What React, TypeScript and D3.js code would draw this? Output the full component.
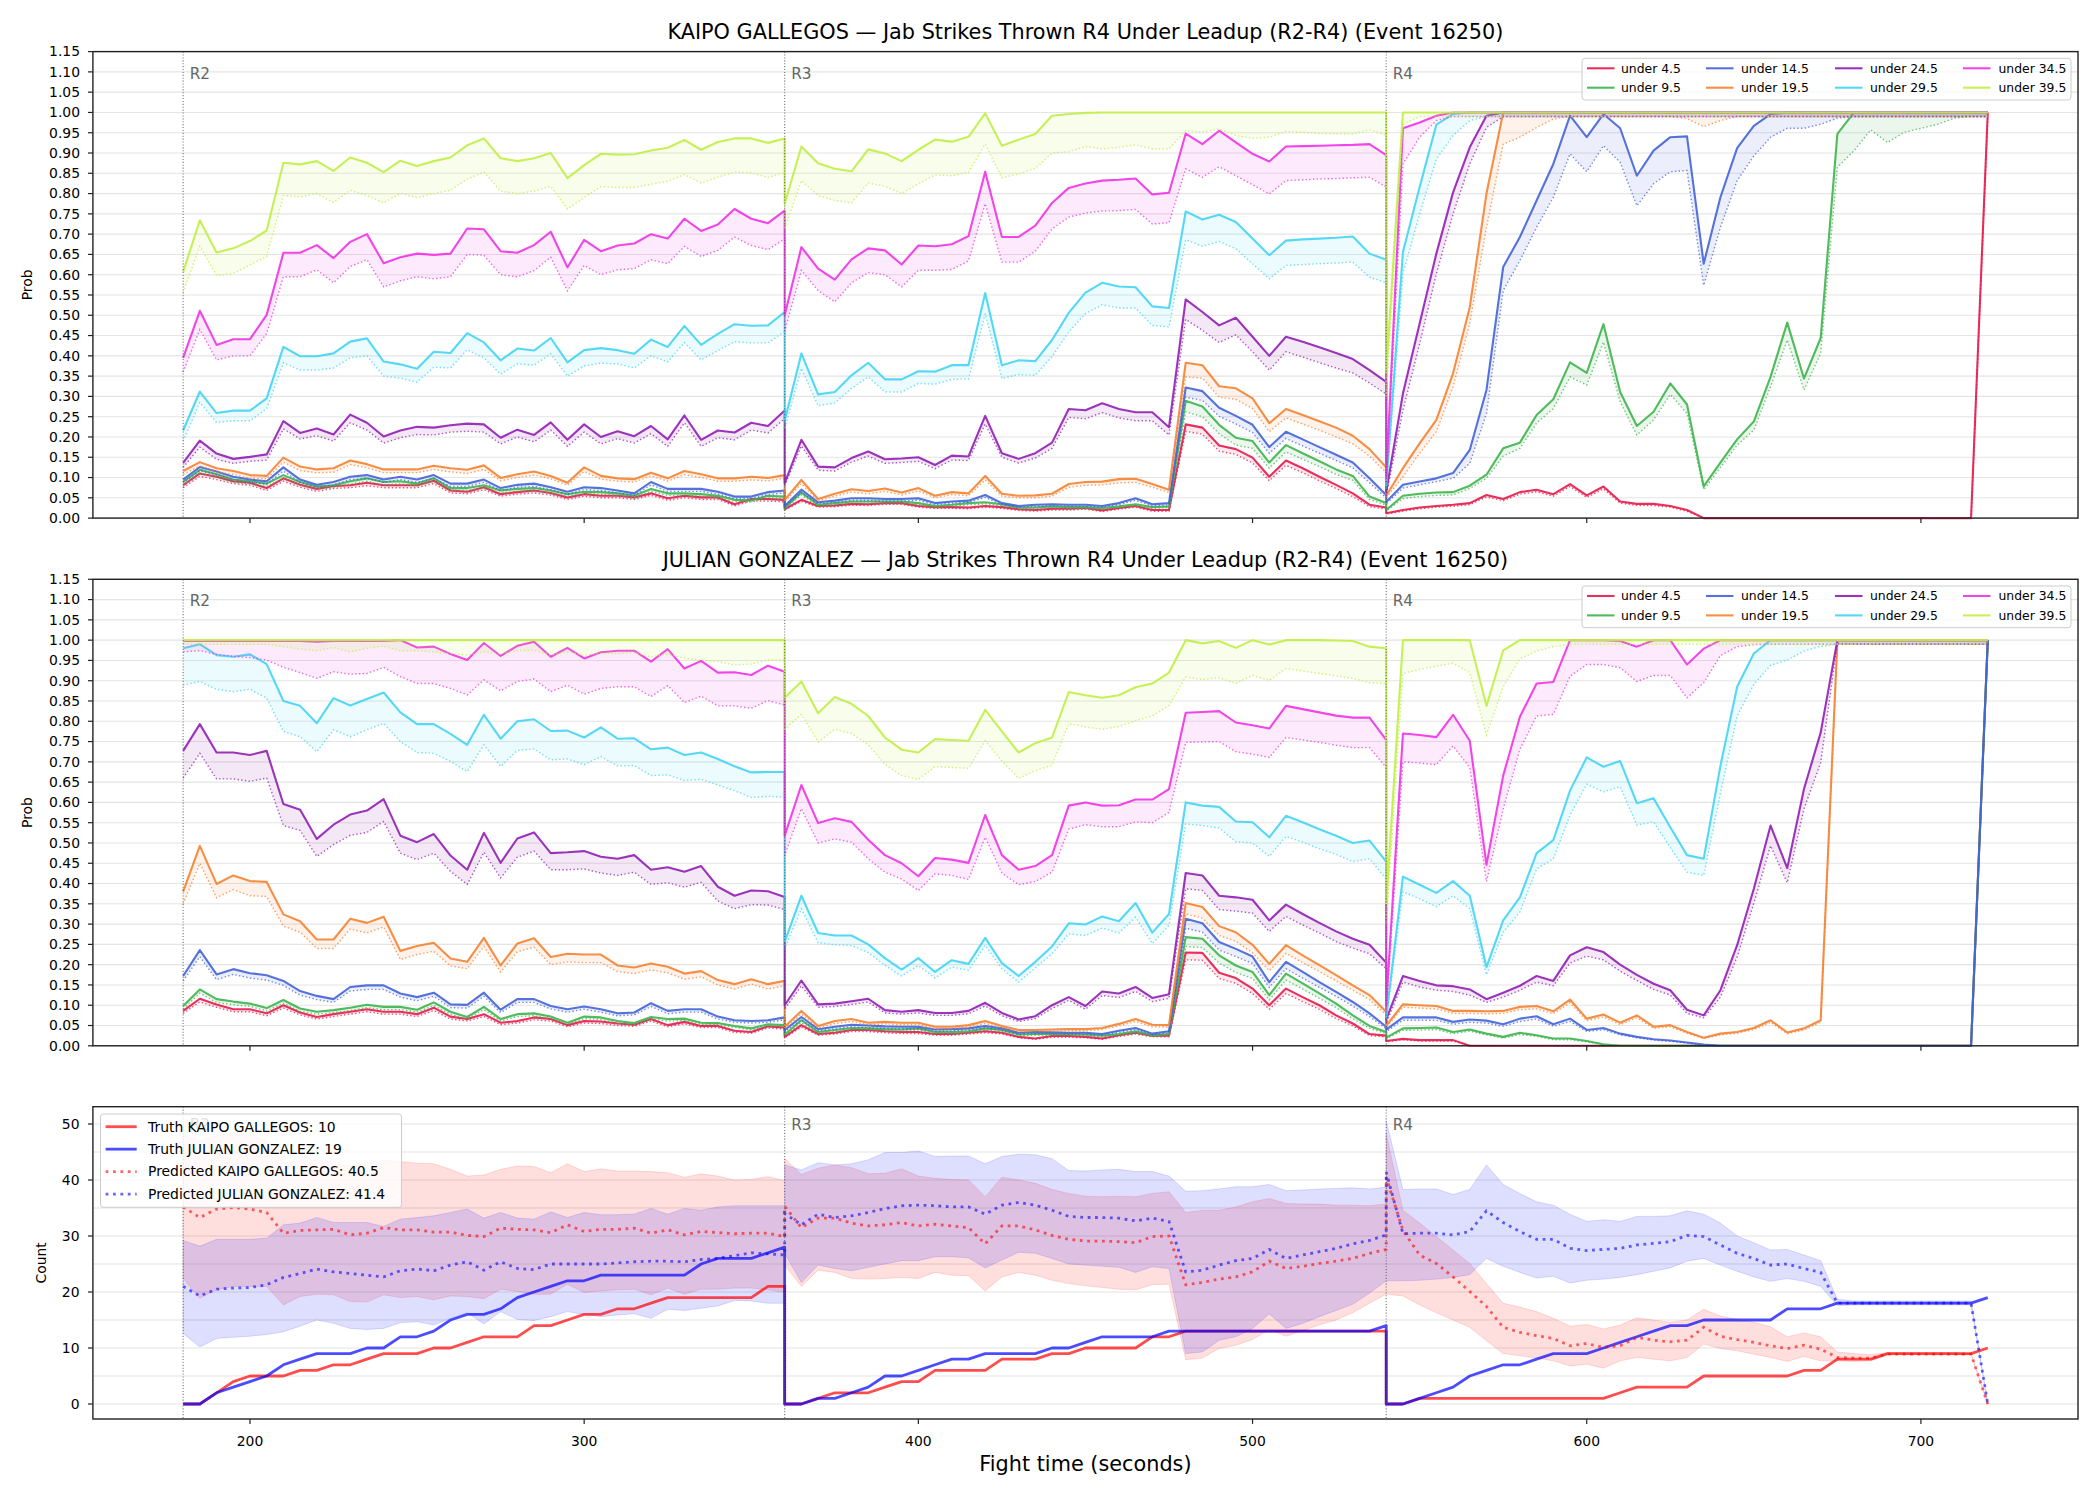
import * as d3 from "d3";

// fight clock: three rounds, one sample every 5 s, round boundary repeated
const ROUND_STARTS = [180, 360, 540];
const ROUND_LABELS = ["R2", "R3", "R4"];
const SAMPLE_STEP = 5;
const SAMPLES_PER_ROUND = 37;
const X_TICKS = [200, 300, 400, 500, 600, 700];

const LINE_LABELS = ["under 4.5", "under 9.5", "under 14.5", "under 19.5", "under 24.5", "under 29.5", "under 34.5", "under 39.5"];
const LINE_COLORS = ["#e6194b", "#3cb44b", "#4363d8", "#f58231", "#911eb4", "#42d4f4", "#f032e6", "#bfef45"];

// KAIPO GALLEGOS, probability x1000 (solid line, then dotted line)
const kg4 = [81,110,102,91,87,74,98,82,72,79,81,87,81,81,81,92,68,65,76,59,64,68,62,51,59,55,55,51,61,49,55,51,51,34,47,47,45,
  22,45,30,31,35,34,37,37,30,27,27,26,30,27,22,20,23,23,25,19,25,30,20,20,231,223,179,170,149,102,142,123,102,82,61,33,26,
  12,20,26,30,33,37,57,47,64,70,59,84,56,78,41,35,35,30,20,0,0,0,0,0,0,0,0,0,0,0,0,0,0,0,0,0,1000];
const kg4d = [75,103,95,85,81,68,91,76,66,73,75,80,75,75,75,85,62,60,70,54,59,62,57,46,54,50,50,46,56,44,50,46,46,30,42,42,40,
  20,41,27,28,32,31,34,34,27,24,24,23,27,24,19,17,20,20,22,16,22,27,17,17,214,207,165,157,136,92,130,112,92,73,53,28,22,
  10,17,23,27,29,33,52,43,59,65,54,78,51,72,37,31,31,27,17,0,0,0,0,0,0,0,0,0,0,0,0,0,0,0,0,0,990];
const kg9 = [89,119,108,95,91,85,106,89,78,81,91,98,89,91,85,98,74,74,81,68,72,74,68,59,65,64,61,55,72,61,61,59,55,45,44,55,53,
  25,63,33,37,41,41,41,41,37,30,33,37,39,34,26,26,29,27,27,25,29,34,27,29,289,275,230,198,190,137,180,160,140,120,104,53,37,
  20,55,60,63,64,80,107,172,186,254,293,384,358,478,311,227,262,332,280,78,137,194,238,348,482,344,444,947,1000,1000,1000,1000,1000,1000,1000,1000,1000];
const kg9d = [82,111,101,88,84,78,98,82,72,75,84,91,82,84,79,91,68,68,75,62,66,68,62,54,60,59,56,50,66,56,56,54,50,41,40,50,48,
  22,57,29,33,37,37,37,37,33,27,29,33,35,30,23,23,26,24,24,22,26,30,24,26,262,250,208,180,172,123,163,145,127,108,93,46,32,
  18,48,53,56,57,73,98,153,172,234,270,348,328,434,287,205,242,305,258,70,125,180,217,324,439,316,406,865,906,957,926,951,961,971,986,990,990];
const kg14 = [95,126,115,102,95,91,125,95,82,89,102,106,95,102,95,106,85,85,95,74,82,85,76,65,76,74,68,61,89,72,72,72,65,53,53,64,68,
  30,70,39,43,49,49,47,47,49,37,41,43,57,37,30,33,34,33,33,30,37,49,34,37,322,313,272,252,230,175,213,194,175,156,137,98,57,
  40,82,90,98,111,168,316,619,693,783,873,992,939,996,961,844,906,939,941,627,791,912,967,996,1000,1000,1000,1000,1000,1000,1000,1000,1000,1000,1000,1000,1000];
const kg14d = [87,117,107,95,88,84,116,88,76,82,95,98,88,95,88,98,78,78,88,68,76,78,70,59,70,68,62,56,82,66,66,66,59,48,48,58,62,
  27,63,35,39,44,44,42,42,44,33,37,39,51,33,27,29,30,29,29,27,33,44,30,33,298,290,251,232,211,160,196,178,160,142,124,87,50,
  35,74,82,90,98,135,258,561,635,717,791,898,854,918,877,770,824,854,857,574,717,832,893,939,961,961,971,986,990,990,990,990,990,990,990,990,990];
const kg19 = [116,138,123,116,106,104,149,127,120,123,142,133,120,120,120,129,123,119,130,99,108,115,104,87,125,104,98,96,112,98,116,108,98,98,102,99,106,
  45,94,47,60,71,67,73,63,74,55,64,61,104,60,55,56,60,84,89,90,96,97,84,70,383,377,325,320,295,234,269,254,239,223,203,170,125,
  55,123,184,242,357,520,800,1000,1000,1000,1000,1000,1000,1000,1000,1000,1000,1000,1000,1000,1000,1000,1000,1000,1000,1000,1000,1000,1000,1000,1000,1000,1000,1000,1000,1000,1000];
const kg19d = [108,128,113,108,98,97,138,117,112,113,132,124,112,112,112,120,114,110,120,92,100,106,97,81,115,96,91,89,104,91,107,100,91,91,94,92,98,
  40,85,42,54,64,60,66,57,67,50,58,55,94,54,50,50,54,76,81,82,87,88,76,63,348,345,298,293,270,213,247,232,217,200,183,153,112,
  50,102,160,213,324,480,717,922,939,963,984,990,990,990,990,990,990,990,985,965,980,990,990,990,990,990,990,990,990,990,990,990,990,990,990,990,990];
const kg24 = [136,191,159,146,151,157,239,210,221,206,255,235,201,216,225,223,229,233,231,198,218,205,236,193,231,200,214,202,227,194,253,193,216,211,235,227,265,
  86,193,127,125,148,164,145,147,150,131,154,152,252,160,146,160,186,269,266,283,269,261,261,224,539,508,475,494,447,400,447,435,421,407,392,365,336,
  65,307,480,652,803,914,992,1000,1000,1000,1000,1000,1000,1000,1000,1000,1000,1000,1000,1000,1000,1000,1000,1000,1000,1000,1000,1000,1000,1000,1000,1000,1000,1000,1000,1000,1000];
const kg24d = [125,175,145,135,140,143,220,195,203,190,235,217,185,198,206,205,212,214,212,183,200,188,217,177,212,183,196,185,208,177,235,177,198,193,217,210,245,
  80,178,118,116,138,153,135,137,140,122,143,142,232,150,136,148,172,248,245,260,247,240,240,205,490,463,433,452,410,365,410,397,383,370,358,333,306,
  55,266,430,602,750,873,963,990,990,990,990,990,990,990,990,990,990,990,990,990,990,990,990,990,990,990,990,990,990,990,990,990,990,990,990,990,990];
const kg29 = [216,312,259,265,265,295,422,399,399,406,435,443,386,379,368,410,407,456,433,389,418,413,444,384,414,419,414,405,440,422,474,427,454,478,474,475,508,
  240,406,305,311,352,383,342,342,362,361,377,377,555,377,389,387,439,506,556,580,571,569,522,518,756,736,748,730,689,648,684,687,689,691,694,652,637,
  80,656,816,970,996,1000,1000,1000,1000,1000,1000,1000,1000,1000,1000,1000,1000,1000,1000,1000,1000,1000,1000,1000,1000,1000,1000,1000,1000,1000,1000,1000,1000,1000,1000,1000,1000];
const kg29d = [190,285,236,240,240,270,383,365,365,370,395,400,350,345,335,372,370,415,395,355,380,377,405,350,375,382,380,370,400,385,433,390,413,435,432,432,460,
  220,369,277,284,320,348,311,311,332,330,342,343,504,344,354,352,398,459,504,526,518,518,475,471,686,670,682,664,627,590,623,625,627,629,631,594,580,
  70,602,750,885,943,980,990,990,990,990,990,990,990,990,990,990,990,990,990,990,990,990,990,990,990,990,990,990,990,990,990,990,990,990,990,990,990];
const kg34 = [395,511,427,441,441,501,654,654,673,641,681,700,628,643,652,649,652,714,712,658,654,673,706,618,686,658,672,677,700,689,738,708,724,762,738,727,758,
  500,668,615,588,638,665,660,625,672,670,675,695,854,693,693,721,777,814,825,832,834,837,798,802,948,922,955,926,898,879,916,917,918,919,920,922,895,
  100,961,975,992,1000,1000,1000,1000,1000,1000,1000,1000,1000,1000,1000,1000,1000,1000,1000,1000,1000,1000,1000,1000,1000,1000,1000,1000,1000,1000,1000,1000,1000,1000,1000,1000,1000];
const kg34d = [360,465,390,400,400,455,595,595,612,580,620,637,570,585,595,590,595,650,648,600,595,610,643,560,623,600,612,615,637,627,670,645,660,693,672,662,688,
  460,611,561,533,580,605,600,570,611,611,613,634,775,631,631,658,713,742,752,757,758,761,725,728,861,840,866,844,822,799,832,834,836,837,839,840,816,
  85,873,939,980,990,990,990,990,990,990,990,990,990,990,990,990,990,990,990,990,990,990,990,990,990,990,990,990,990,990,990,990,990,990,990,990,990];
const kg39 = [607,734,655,665,683,709,876,872,880,856,889,876,853,881,868,880,889,919,936,887,880,887,900,838,870,898,896,897,906,913,932,908,927,936,936,925,936,
  775,916,875,861,855,909,899,880,908,933,928,940,998,918,933,947,992,996,999,1000,1000,1000,1000,1000,1000,1000,1000,1000,1000,1000,1000,1000,1000,1000,1000,1000,1000,
  360,1000,1000,1000,1000,1000,1000,1000,1000,1000,1000,1000,1000,1000,1000,1000,1000,1000,1000,1000,1000,1000,1000,1000,1000,1000,1000,1000,1000,1000,1000,1000,1000,1000,1000,1000,1000];
const kg39d = [556,670,598,603,624,645,795,792,800,778,808,795,777,800,790,800,808,836,853,806,800,806,818,762,790,817,815,815,823,830,847,826,840,853,851,840,851,
  713,832,795,783,777,826,818,800,824,846,844,852,922,839,848,862,900,903,916,910,914,920,910,910,955,951,959,943,936,939,953,951,948,947,947,957,944,
  300,970,990,990,990,990,990,990,990,990,990,990,990,990,990,990,990,990,990,990,990,990,990,990,990,990,990,990,990,990,990,990,990,990,990,990,990];

// JULIAN GONZALEZ, probability x1000 (solid line, then dotted line)
const jg4 = [86,116,102,90,90,80,100,82,71,78,84,90,84,84,78,94,72,66,78,57,61,70,66,51,61,60,55,52,66,51,59,49,49,37,34,48,45,
  22,51,29,32,39,39,36,34,34,29,29,32,36,32,22,18,24,24,22,18,26,32,25,25,230,229,180,167,141,100,141,120,100,75,55,29,25,
  12,17,14,14,14,0,0,0,0,0,0,0,0,0,0,0,0,0,0,0,0,0,0,0,0,0,0,0,0,0,0,0,0,0,0,0,1000];
const jg4d = [80,108,95,84,84,74,93,76,66,72,78,84,78,78,72,87,66,61,72,52,56,64,61,47,56,55,50,48,61,47,54,45,45,33,31,44,41,
  20,46,26,29,35,35,32,30,30,26,26,29,32,29,20,16,21,21,20,16,23,29,22,22,212,211,166,154,129,90,129,109,90,67,49,25,22,
  10,15,12,12,12,0,0,0,0,0,0,0,0,0,0,0,0,0,0,0,0,0,0,0,0,0,0,0,0,0,0,0,0,0,0,0,990];
const jg9 = [98,139,115,109,104,93,113,92,84,88,94,101,96,96,89,107,84,71,96,66,78,80,72,57,72,70,61,56,71,66,67,57,56,49,43,53,51,
  28,63,34,39,44,43,41,40,43,34,34,36,43,39,28,29,29,29,28,25,29,36,26,29,268,264,223,198,182,125,178,154,129,104,75,49,34,
  20,43,44,45,34,40,30,22,32,26,18,18,12,4,0,0,0,0,0,0,0,0,0,0,0,0,0,0,0,0,0,0,0,0,0,0,1000];
const jg9d = [91,130,107,101,97,86,105,85,78,82,87,94,89,89,83,99,78,66,89,61,72,74,67,53,67,65,56,52,66,61,62,53,52,45,39,49,47,
  25,57,30,35,40,39,37,36,39,30,30,32,39,35,25,26,26,26,25,22,26,32,23,26,245,242,204,181,166,113,162,140,117,94,67,43,30,
  18,38,39,40,30,36,27,19,28,23,15,15,10,3,0,0,0,0,0,0,0,0,0,0,0,0,0,0,0,0,0,0,0,0,0,0,990];
const jg14 = [172,236,176,189,179,174,160,135,123,115,145,149,149,129,120,131,102,101,131,89,115,115,98,90,97,90,80,82,105,86,90,90,72,63,61,63,70,
  39,71,41,47,52,50,48,47,47,40,41,43,49,43,32,34,33,32,32,29,37,44,30,36,313,302,256,239,220,157,207,182,157,133,108,80,47,
  40,70,70,70,59,65,62,53,67,73,53,67,39,44,30,22,16,13,8,3,0,0,0,0,0,0,0,0,0,0,0,0,0,0,0,0,1000];
const jg14d = [160,220,163,176,167,162,149,125,114,107,135,139,139,120,111,122,94,93,122,82,107,107,91,83,90,83,74,76,97,79,83,83,66,58,56,58,64,
  35,64,37,42,47,45,43,42,42,36,37,39,44,39,29,31,30,29,29,26,33,40,27,32,290,280,236,220,203,144,190,167,144,122,98,72,42,
  35,63,63,63,53,58,56,48,60,66,48,60,35,40,27,20,14,11,7,2,0,0,0,0,0,0,0,0,0,0,0,0,0,0,0,0,990];
const jg19 = [380,493,399,420,406,404,324,307,262,262,313,303,318,234,246,254,215,207,266,198,252,265,219,227,225,225,198,193,203,195,178,184,162,152,164,152,160,
  47,86,49,61,66,57,59,57,57,47,47,51,61,49,39,39,40,41,41,44,54,66,52,51,352,342,295,280,249,202,248,223,199,174,149,125,84,
  50,102,100,98,86,86,85,86,96,98,85,114,67,77,57,75,47,51,34,20,30,34,44,63,33,43,63,1000,1000,1000,1000,1000,1000,1000,1000,1000,1000];
const jg19d = [350,450,365,385,370,368,295,280,240,240,288,278,293,213,225,233,197,190,245,182,232,243,200,207,205,205,183,178,187,180,164,170,150,140,152,140,148,
  42,78,44,55,60,52,54,52,52,42,42,46,55,44,35,35,36,37,37,40,49,60,47,46,325,315,272,258,229,185,228,205,183,160,137,114,76,
  45,95,93,91,80,80,79,80,89,91,79,106,62,71,52,69,43,47,31,18,27,31,40,58,30,39,58,990,990,990,990,990,990,990,990,990,990];
const jg24 = [727,793,723,723,717,727,596,582,510,545,570,580,608,518,502,522,469,434,525,451,511,526,475,477,480,466,461,470,434,440,429,443,392,370,383,381,367,
  100,161,102,104,110,116,88,84,88,81,81,86,106,81,65,73,100,120,98,134,129,145,118,127,426,420,370,366,360,309,348,325,303,282,264,249,205,
  65,172,160,149,147,139,115,131,148,172,160,223,243,231,200,175,153,137,89,75,137,248,387,543,438,633,772,1000,1000,1000,1000,1000,1000,1000,1000,1000,1000];
const jg24d = [660,721,658,658,652,660,543,531,467,496,519,526,553,475,459,475,430,398,477,414,465,480,434,434,436,426,420,428,398,402,391,403,357,338,348,347,336,
  90,148,95,97,102,108,81,78,81,75,75,79,98,74,60,67,92,112,90,124,119,134,109,117,387,383,336,332,327,282,319,298,278,257,241,227,190,
  55,157,145,137,134,125,107,120,137,157,148,204,221,212,184,161,139,125,80,69,120,219,352,493,402,584,698,992,990,990,990,990,990,990,990,990,990];
const jg29 = [980,990,963,959,965,941,850,838,795,857,839,855,871,822,793,793,769,742,816,757,800,805,776,777,760,785,757,758,731,735,717,723,707,689,674,675,675,
  256,370,278,272,272,250,216,188,216,182,211,202,266,204,172,207,245,302,299,319,307,352,279,325,600,592,589,553,551,514,567,551,534,518,500,506,454,
  70,417,397,377,406,370,194,309,366,475,507,629,711,688,702,598,610,539,470,461,690,885,967,1000,1000,1000,1000,1000,1000,1000,1000,1000,1000,1000,1000,1000,1000];
const jg29d = [889,898,879,873,879,857,775,762,725,779,762,779,795,750,723,721,701,676,742,689,728,732,705,707,693,713,690,691,666,668,654,657,643,629,612,615,613,
  239,338,254,249,247,230,198,172,198,167,194,186,248,190,157,192,227,276,272,290,278,317,252,297,547,543,537,503,500,467,516,502,486,472,454,461,411,
  65,380,362,343,370,338,175,280,330,436,461,569,645,626,639,544,552,489,428,420,623,813,891,938,951,973,985,990,990,990,990,990,990,990,990,990,990];
const jg34 = [998,998,998,998,998,998,998,998,996,998,998,998,998,1000,982,984,966,951,993,961,986,996,959,981,955,970,974,974,947,978,930,949,920,921,914,937,922,
  518,643,549,561,552,508,470,450,418,463,459,451,569,470,434,443,470,592,600,592,593,607,607,633,821,823,825,797,790,782,838,830,822,814,809,809,754,
  100,770,766,761,816,752,446,666,811,893,897,1000,1000,1000,998,984,1000,1000,940,979,1000,1000,1000,1000,1000,1000,1000,1000,1000,1000,1000,1000,1000,1000,1000,1000,1000];
const jg34d = [971,974,965,960,957,951,933,920,906,922,916,918,933,910,893,893,881,865,902,875,898,904,873,889,867,881,885,885,861,888,846,862,838,838,832,851,840,
  469,585,500,510,502,461,428,411,383,424,420,410,514,426,397,405,428,534,545,540,540,552,550,575,748,749,750,725,719,711,760,754,748,741,735,735,686,
  85,700,697,693,739,686,405,584,731,813,817,911,940,940,932,898,913,913,858,895,962,984,989,990,990,990,990,990,990,990,990,990,990,990,990,990,990];
const jg39 = [1000,1000,1000,1000,1000,1000,1000,1000,1000,1000,1000,1000,1000,1000,1000,1000,1000,1000,1000,1000,1000,1000,1000,1000,1000,1000,1000,1000,1000,1000,1000,1000,1000,1000,1000,1000,1000,
  858,898,820,860,843,813,760,730,723,756,754,752,828,775,723,746,760,872,864,858,864,884,893,920,1000,992,998,981,1000,989,1000,1000,1000,999,998,984,980,
  350,1000,1000,1000,1000,1000,838,975,1000,1000,1000,1000,1000,1000,1000,1000,1000,1000,1000,1000,1000,1000,1000,1000,1000,1000,1000,1000,1000,1000,1000,1000,1000,1000,1000,1000,1000];
const jg39d = [990,990,990,990,990,990,984,978,974,982,971,980,985,974,974,971,967,963,971,966,974,975,963,971,963,967,967,969,959,966,955,951,947,939,941,951,951,
  780,817,749,780,770,742,694,666,657,688,686,684,752,702,659,678,692,794,786,780,787,801,813,839,909,903,907,893,913,901,930,924,918,912,906,895,893,
  300,918,928,936,943,920,766,885,954,973,984,990,990,990,990,990,990,990,990,990,990,990,990,990,990,990,990,990,990,990,990,990,990,990,990,990,990];

// cumulative jab counts
const kgTruth = [0,0,2,4,5,5,5,6,6,7,7,8,9,9,9,10,10,11,12,12,12,14,14,15,16,16,17,17,18,19,19,19,19,19,19,21,21,
  0,0,1,2,2,2,3,4,4,6,6,6,6,8,8,8,9,9,10,10,10,10,12,12,13,13,13,13,13,13,13,13,13,13,13,13,13,
  0,0,1,1,1,1,1,1,1,1,1,1,1,1,2,3,3,3,3,5,5,5,5,5,5,6,6,8,8,8,9,9,9,9,9,9,10];
const jgTruth = [0,0,2,3,4,5,7,8,9,9,9,10,10,12,12,13,15,16,16,17,19,20,21,22,22,23,23,23,23,23,23,25,26,26,26,27,28,
  0,0,1,1,2,3,5,5,6,7,8,8,9,9,9,9,10,10,11,12,12,12,12,13,13,13,13,13,13,13,13,13,13,13,13,13,14,
  0,0,1,2,3,5,6,7,7,8,9,9,9,10,11,12,13,14,14,15,15,15,15,15,17,17,17,18,18,18,18,18,18,18,18,18,19];
const kgPred = [35.2,33.3,34.8,35.1,34.8,34.2,30.5,31.0,31.1,31.2,30.2,30.5,31.5,31.1,31.1,30.7,30.7,30.1,29.9,31.4,31.2,31.1,30.6,32.0,30.8,31.2,31.2,31.4,30.5,31.1,30.2,30.8,30.6,30.4,30.5,30.5,29.9,
  35.3,31.5,33.2,33.2,32.3,31.8,32.0,32.4,31.8,32.1,31.8,31.5,28.6,31.8,31.8,31.1,30.1,29.4,29.1,29.1,29.0,28.8,29.9,30.0,21.3,21.7,22.3,22.7,23.6,25.5,24.2,24.6,25.1,25.5,26.0,26.9,27.6,
  40.5,31.0,26.6,25.1,22.7,20.1,17.4,13.7,12.8,12.2,11.7,10.4,10.8,10.1,10.4,11.9,11.4,11.1,11.4,13.7,12.1,11.5,11.0,10.4,9.9,10.5,9.8,8.3,8.2,8.2,8.9,8.9,8.9,8.9,8.9,8.9,0];
const jgPred = [21.0,19.3,20.5,20.7,20.8,21.3,22.6,23.3,24.1,23.6,23.3,23.0,22.7,23.8,24.1,23.8,24.8,25.4,23.9,25.4,24.2,24.0,25.0,25.0,25.0,25.0,25.2,25.4,25.5,25.5,25.4,25.8,26.0,26.5,27.0,26.8,26.6,
  34.0,32.0,33.9,33.3,33.6,34.2,34.9,35.4,35.5,35.4,35.2,35.2,33.9,35.5,36.0,35.5,34.6,33.5,33.3,33.3,33.2,32.7,33.2,32.6,23.6,23.9,24.8,25.6,26.0,27.6,26.0,26.6,27.2,27.8,28.6,29.2,30.2,
  41.4,30.4,30.5,30.5,30.2,30.8,34.5,32.4,30.8,29.4,29.4,27.8,27.4,27.6,27.8,28.4,28.7,29.0,30.1,29.9,28.4,26.9,26.0,24.8,25.0,24.2,23.5,18,18,18,18,18,18,18,18,18,0];
const kgHi = [48.0,47.0,48.0,48.5,48.0,47.0,43.0,43.5,43.5,43.0,42.5,43.0,43.5,43.3,43.0,42.9,41.9,40.7,40.9,41.9,42.5,42.4,41.3,42.9,41.5,42.0,41.6,41.6,41.5,41.3,40.5,41.1,40.7,40.0,40.1,40.6,39.9,
  43.9,41.0,42.1,42.7,42.2,41.1,41.2,42.0,40.7,40.3,40.1,40.0,37.0,40.5,40.0,39.4,38.3,37.6,37.1,37.0,37.1,37.0,37.6,37.9,34.2,34.6,34.6,35.2,36.1,36.7,35.8,35.7,35.7,35.5,35.5,35.4,35.7,
  48.3,34.6,32.3,29.9,27.5,25.1,21.5,18.0,17.3,16.5,15.3,13.9,14.2,13.4,14.1,15.4,15.0,14.6,15.0,16.9,15.7,15.1,14.6,13.8,12.0,12.7,12.0,9.3,9.0,8.8,9.2,9.2,9.2,9.2,9.2,9.0,0];
const kgLo = [22.4,18.9,20.4,21.0,21.0,21.0,17.7,19.2,19.6,19.5,18.3,18.2,19.5,19.0,19.2,18.6,19.3,19.2,18.8,20.5,20.1,19.6,19.6,21.4,19.9,20.2,20.4,20.5,19.5,20.7,19.6,20.5,20.5,20.7,20.7,20.4,19.9,
  24.8,21.0,23.9,23.5,22.4,22.3,22.4,22.6,22.4,23.5,23.0,22.9,20.2,22.7,23.5,23.0,22.1,21.5,21.1,20.8,20.5,20.4,21.3,21.4,7.9,8.2,9.9,10.5,11.5,13.3,12.1,13.1,14.1,15.0,16.3,18.0,19.6,
  19.6,19.3,17.7,16.3,15.0,13.7,11.3,9.0,8.6,8.2,7.7,6.8,7.1,6.4,7.7,8.3,8.0,7.7,8.3,10.7,9.9,9.5,8.9,8.3,7.6,8.5,7.7,7.7,7.6,7.7,8.8,8.8,8.8,8.8,8.8,8.8,0];
const jgHi = [29.2,28.2,29.4,29.4,29.4,29.6,32.0,32.3,33.3,32.4,32.4,32.4,31.7,33.0,33.3,33.6,34.2,34.8,33.2,34.2,33.2,33.0,34.3,33.3,34.2,33.8,33.8,33.9,34.9,33.9,34.9,34.6,35.2,35.4,35.4,35.4,35.4,
  42.7,41.8,43.1,42.7,42.9,43.6,44.9,44.9,45.2,44.2,44.3,44.3,42.9,44.2,44.6,44.5,43.8,41.7,41.6,41.8,41.9,41.5,41.5,40.7,38.0,38.1,38.4,38.8,38.8,39.2,38.1,38.2,38.4,38.5,38.6,38.4,38.7,
  50.6,38.3,38.4,38.4,37.4,38.3,42.7,39.2,37.6,36.1,35.5,33.9,32.6,32.9,32.6,33.5,33.5,33.6,34.5,33.9,32.3,30.0,28.8,27.5,27.6,26.6,25.6,18.7,18.4,18.4,18.4,18.4,18.4,18.4,18.4,18.4,0];
const jgLo = [12.6,10.2,11.7,11.9,12.1,12.4,12.9,13.9,15.0,14.4,13.5,13.3,13.5,14.5,14.7,14.1,15.3,16.3,14.3,16.5,15.1,14.9,15.6,16.5,16.0,15.6,15.9,16.1,15.3,16.9,16.7,17.1,17.5,18.5,18.4,18.0,18.0,
  26.9,21.7,24.8,24.2,23.8,24.4,25.0,25.6,25.6,26.3,26.3,26.1,24.3,25.7,27.1,26.9,26.0,25.0,24.8,24.6,24.4,23.5,24.5,24.2,9.0,9.3,11.4,12.0,13.5,16.1,13.5,14.4,15.6,16.7,17.8,19.8,22.0,
  22.0,22.0,22.1,22.3,22.6,23.1,26.0,24.6,23.5,22.5,22.8,21.6,22.1,22.3,22.6,23.1,23.7,24.3,25.5,26.0,24.8,23.7,22.7,21.9,22.4,21.9,21.0,17.6,17.7,17.7,17.7,17.7,17.7,17.7,17.7,17.7,0];

const KG_SOLID = [kg4, kg9, kg14, kg19, kg24, kg29, kg34, kg39];
const KG_DOTTED = [kg4d, kg9d, kg14d, kg19d, kg24d, kg29d, kg34d, kg39d];
const JG_SOLID = [jg4, jg9, jg14, jg19, jg24, jg29, jg34, jg39];
const JG_DOTTED = [jg4d, jg9d, jg14d, jg19d, jg24d, jg29d, jg34d, jg39d];

const TIMES = ROUND_STARTS.flatMap((s) => d3.range(SAMPLES_PER_ROUND).map((i) => s + i * SAMPLE_STEP));
const IDX = d3.range(TIMES.length);

const FONT = "DejaVu Sans, Verdana, sans-serif";
const X_LEFT = 92.9;
const X_RIGHT = 2078;
const PROB_H = 466.5;

const x = d3.scaleLinear().domain([153, 747]).range([X_LEFT, X_RIGHT]);

function Frame({ top, bottom }: { top: number; bottom: number }) {
  return (
    <g>
      <rect x={X_LEFT} y={top} width={X_RIGHT - X_LEFT} height={bottom - top} fill="none" stroke="#222" strokeWidth={1.4} />
      {X_TICKS.map((t) => (
        <line key={t} x1={x(t)} x2={x(t)} y1={bottom} y2={bottom + 4.9} stroke="#222" strokeWidth={1.2} />
      ))}
    </g>
  );
}

function RoundMarks({ top, bottom, labelY }: { top: number; bottom: number; labelY: number }) {
  return (
    <g>
      {ROUND_STARTS.map((s, i) => (
        <g key={s}>
          <line x1={x(s)} x2={x(s)} y1={top} y2={bottom} stroke="#555" strokeWidth={1.1} strokeDasharray="1.1 1.8" strokeOpacity={0.8} />
          <text x={x(s) + 6.5} y={labelY} dy="0.35em" fontSize={15.3} fill="#666">{ROUND_LABELS[i]}</text>
        </g>
      ))}
    </g>
  );
}

const LEG_HANDLE_X = [1587, 1706, 1835, 1963];
const LEG_TEXT_X = [1621, 1741, 1870, 1998.5];

function ProbPanel({ top, title, solid, dotted }: { top: number; title: string; solid: number[][]; dotted: number[][] }) {
  const bottom = top + PROB_H;
  const y = d3.scaleLinear().domain([0, 1.15]).range([bottom, top]);
  const yTicks = d3.range(24).map((i) => i * 0.05);
  const fmt = d3.format(".2f");
  return (
    <g>
      <text x={(X_LEFT + X_RIGHT) / 2} y={top - 12.3} textAnchor="middle" fontSize={20.8} fill="#000">{title}</text>
      {yTicks.map((t) => (
        <line key={t} x1={X_LEFT} x2={X_RIGHT} y1={y(t)} y2={y(t)} stroke="#e4e4e4" strokeWidth={1.1} />
      ))}
      {solid.map((s, k) => {
        const d = dotted[k];
        const band = d3.area<number>().x((i) => x(TIMES[i])).y0((i) => y(d[i] / 1000)).y1((i) => y(s[i] / 1000));
        const lineS = d3.line<number>().x((i) => x(TIMES[i])).y((i) => y(s[i] / 1000));
        const lineD = d3.line<number>().x((i) => x(TIMES[i])).y((i) => y(d[i] / 1000));
        return (
          <g key={k}>
            <path d={band(IDX) || ""} fill={LINE_COLORS[k]} fillOpacity={0.1} />
            <path d={lineS(IDX) || ""} fill="none" stroke={LINE_COLORS[k]} strokeWidth={2.1} strokeOpacity={0.9} strokeLinejoin="round" />
            <path d={lineD(IDX) || ""} fill="none" stroke={LINE_COLORS[k]} strokeWidth={1.4} strokeOpacity={0.75} strokeDasharray="1.4 2.3" />
          </g>
        );
      })}
      <RoundMarks top={top} bottom={bottom} labelY={y(1.1) + 1.5} />
      <Frame top={top} bottom={bottom} />
      {yTicks.map((t) => (
        <g key={t}>
          <line x1={X_LEFT - 4.9} x2={X_LEFT} y1={y(t)} y2={y(t)} stroke="#222" strokeWidth={1.2} />
          <text x={80} y={y(t)} dy="0.35em" textAnchor="end" fontSize={13.9}>{fmt(t)}</text>
        </g>
      ))}
      <text transform={`translate(27.5,${(top + bottom) / 2}) rotate(-90)`} textAnchor="middle" dy="0.35em" fontSize={13.9}>Prob</text>
      <g>
        <rect x={1582} y={top + 6.7} width={489} height={41.7} rx={3} fill="#fff" fillOpacity={0.8} stroke="#ccc" strokeWidth={1} />
        {LINE_LABELS.map((lab, k) => {
          const col = Math.floor(k / 2);
          const ry = top + (k % 2 === 0 ? 16.7 : 36.1);
          return (
            <g key={lab}>
              <line x1={LEG_HANDLE_X[col]} x2={LEG_HANDLE_X[col] + 27.5} y1={ry} y2={ry} stroke={LINE_COLORS[k]} strokeWidth={2.1} strokeOpacity={0.9} />
              <text x={LEG_TEXT_X[col]} y={ry} dy="0.35em" fontSize={12.4}>{lab}</text>
            </g>
          );
        })}
      </g>
    </g>
  );
}

const COUNT_TOP = 1106.7;
const COUNT_BOTTOM = 1419;
const COUNT_GRID = [0, 5, 10, 15, 20, 25, 30, 35, 40, 45, 50];
const COUNT_TICKS = [0, 10, 20, 30, 40, 50];

const COUNT_LEGEND = [
  { label: "Truth KAIPO GALLEGOS: 10", color: "#ff0000", dotted: false },
  { label: "Truth JULIAN GONZALEZ: 19", color: "#0000ff", dotted: false },
  { label: "Predicted KAIPO GALLEGOS: 40.5", color: "#ff0000", dotted: true },
  { label: "Predicted JULIAN GONZALEZ: 41.4", color: "#0000ff", dotted: true },
];

function CountPanel() {
  const y = d3.scaleLinear().domain([-2.68, 53.09]).range([COUNT_BOTTOM, COUNT_TOP]);
  const line = (vals: number[]) => d3.line<number>().x((i) => x(TIMES[i])).y((i) => y(vals[i]))(IDX) || "";
  const band = (lo: number[], hi: number[]) =>
    d3.area<number>().x((i) => x(TIMES[i])).y0((i) => y(lo[i])).y1((i) => y(hi[i]))(IDX) || "";
  return (
    <g>
      {COUNT_GRID.map((t) => (
        <line key={t} x1={X_LEFT} x2={X_RIGHT} y1={y(t)} y2={y(t)} stroke="#e4e4e4" strokeWidth={1.1} />
      ))}
      <path d={band(kgLo, kgHi)} fill="#ff0000" fillOpacity={0.13} stroke="#ff0000" strokeOpacity={0.13} strokeWidth={1} />
      <path d={band(jgLo, jgHi)} fill="#0000ff" fillOpacity={0.13} stroke="#0000ff" strokeOpacity={0.13} strokeWidth={1} />
      <path d={line(kgTruth)} fill="none" stroke="#ff0000" strokeOpacity={0.7} strokeWidth={2.8} strokeLinejoin="round" />
      <path d={line(jgTruth)} fill="none" stroke="#0000ff" strokeOpacity={0.7} strokeWidth={2.8} strokeLinejoin="round" />
      <path d={line(kgPred)} fill="none" stroke="#ff0000" strokeOpacity={0.6} strokeWidth={2.8} strokeDasharray="2.8 4.6" />
      <path d={line(jgPred)} fill="none" stroke="#0000ff" strokeOpacity={0.6} strokeWidth={2.8} strokeDasharray="2.8 4.6" />
      <RoundMarks top={COUNT_TOP} bottom={COUNT_BOTTOM} labelY={y(50) + 0.5} />
      <Frame top={COUNT_TOP} bottom={COUNT_BOTTOM} />
      {COUNT_TICKS.map((t) => (
        <g key={t}>
          <line x1={X_LEFT - 4.9} x2={X_LEFT} y1={y(t)} y2={y(t)} stroke="#222" strokeWidth={1.2} />
          <text x={79.5} y={y(t)} dy="0.35em" textAnchor="end" fontSize={13.9}>{t}</text>
        </g>
      ))}
      {X_TICKS.map((t) => (
        <text key={t} x={x(t)} y={1446} textAnchor="middle" fontSize={13.9}>{t}</text>
      ))}
      <text transform={`translate(40.8,${(COUNT_TOP + COUNT_BOTTOM) / 2}) rotate(-90)`} textAnchor="middle" dy="0.35em" fontSize={13.9}>Count</text>
      <text x={(X_LEFT + X_RIGHT) / 2} y={1471} textAnchor="middle" fontSize={20.8}>Fight time (seconds)</text>
      <g>
        <rect x={100.5} y={1114} width={301} height={93.3} rx={3} fill="#fff" fillOpacity={0.8} stroke="#ccc" strokeWidth={1} />
        {COUNT_LEGEND.map((e, i) => {
          const ry = 1126.7 + i * 22.45;
          return (
            <g key={e.label}>
              <line x1={105.6} x2={136.7} y1={ry} y2={ry} stroke={e.color} strokeOpacity={e.dotted ? 0.6 : 0.7} strokeWidth={2.8}
                strokeDasharray={e.dotted ? "2.8 4.6" : undefined} />
              <text x={148} y={ry} dy="0.35em" fontSize={13.9}>{e.label}</text>
            </g>
          );
        })}
      </g>
    </g>
  );
}

export default function App() {
  return (
    <div style={{ position: "absolute", left: 0, top: 0 }}>
      <svg width={2100} height={1500} style={{ display: "block", background: "#fff" }} fontFamily={FONT}>
        <rect x={0} y={0} width={2100} height={1500} fill="#fff" />
        <ProbPanel top={51.6} title="KAIPO GALLEGOS — Jab Strikes Thrown R4 Under Leadup (R2-R4) (Event 16250)" solid={KG_SOLID} dotted={KG_DOTTED} />
        <ProbPanel top={579.3} title="JULIAN GONZALEZ — Jab Strikes Thrown R4 Under Leadup (R2-R4) (Event 16250)" solid={JG_SOLID} dotted={JG_DOTTED} />
        <CountPanel />
      </svg>
    </div>
  );
}
